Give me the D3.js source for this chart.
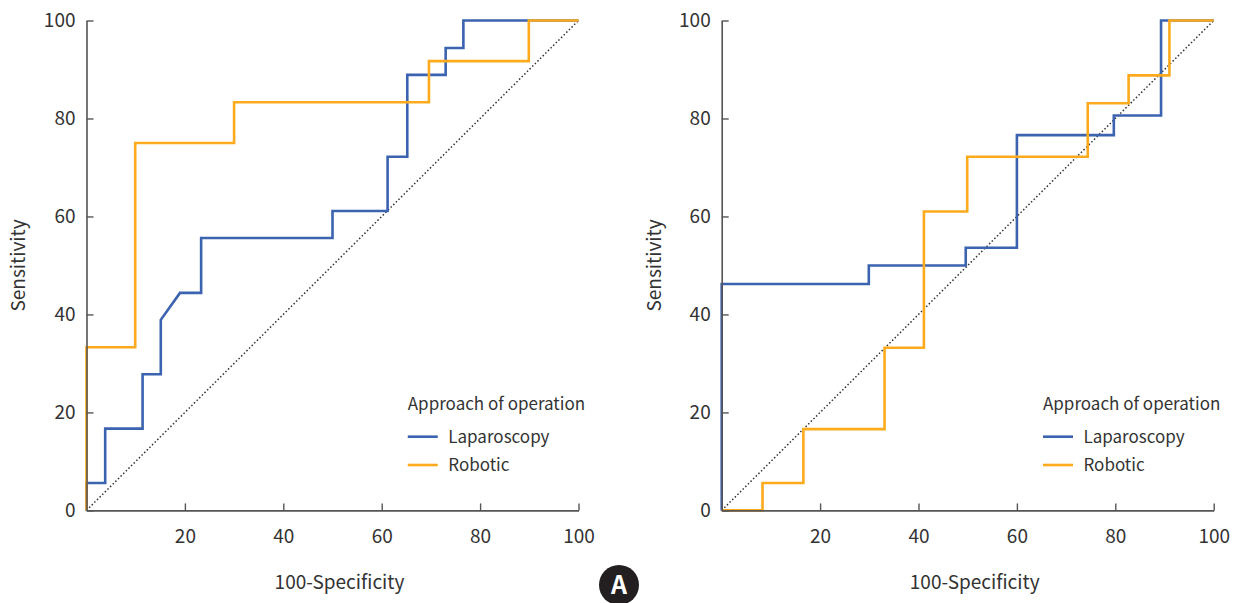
<!DOCTYPE html>
<html>
<head>
<meta charset="utf-8">
<script src="https://cdn.jsdelivr.net/npm/d3@7"></script>
<style>
  body { margin: 0; background: #fff; }
  svg { display: block; }
  text { font-family: "Noto Sans CJK KR", "Noto Sans", sans-serif; fill: #333; }
</style>
</head>
<body>
<svg id="chart" width="1235" height="603"></svg>
<script>
// ROC corner points (100-Specificity, Sensitivity)
const leftLapFpr = [0, 0, 3.8, 3.8, 11.4, 11.4, 15.1, 15.1, 19.0, 23.3, 23.3, 50, 50, 61.2, 61.2, 65.2, 65.2, 73, 73, 76.6, 76.6, 100];
const leftLapTpr = [0, 5.6, 5.6, 16.7, 16.7, 27.8, 27.8, 38.9, 44.4, 44.4, 55.6, 55.6, 61.1, 61.1, 72.2, 72.2, 88.9, 88.9, 94.4, 94.4, 100, 100];
const leftRobFpr = [0, 0, 9.9, 9.9, 30, 30, 69.6, 69.6, 89.9, 89.9, 100];
const leftRobTpr = [0, 33.3, 33.3, 75, 75, 83.3, 83.3, 91.7, 91.7, 100, 100];

const rightLapFpr = [0, 0, 29.9, 29.9, 49.6, 49.6, 60, 60, 79.7, 79.7, 89.3, 89.3, 100];
const rightLapTpr = [0, 46.2, 46.2, 50, 50, 53.6, 53.6, 76.6, 76.6, 80.6, 80.6, 100, 100];
const rightRobFpr = [0, 8.3, 8.3, 16.6, 16.6, 33.1, 33.1, 41.1, 41.1, 49.9, 49.9, 74.4, 74.4, 82.7, 82.7, 91, 91, 100];
const rightRobTpr = [0, 0, 5.6, 5.6, 16.6, 16.6, 33.2, 33.2, 61, 61, 72.2, 72.2, 83.1, 83.1, 88.8, 88.8, 100, 100];

const xTicks = [20, 40, 60, 80, 100];
const yTicks = [0, 20, 40, 60, 80, 100];
const seriesNames = ["Laparoscopy", "Robotic"];
const legendTitle = "Approach of operation";

const colors = {"Laparoscopy": "#3b63b0", "Robotic": "#fdab1c"};

const svg = d3.select("#chart");

const panels = [
  {x0: 86.5, titleX: 25, series: [[leftLapFpr, leftLapTpr], [leftRobFpr, leftRobTpr]]},
  {x0: 721.7, titleX: 661, series: [[rightLapFpr, rightLapTpr], [rightRobFpr, rightRobTpr]]}
];

const plotW = 492, plotTop = 20.5, plotBottom = 510.4;

panels.forEach(p => {
  const g = svg.append("g").attr("transform", `translate(${p.x0},0)`);
  const x = d3.scaleLinear().domain([0, 100]).range([0, plotW]);
  const y = d3.scaleLinear().domain([0, 100]).range([plotBottom, plotTop]);

  // reference diagonal
  g.append("line")
    .attr("x1", x(0)).attr("y1", y(0))
    .attr("x2", x(100)).attr("y2", y(100))
    .attr("stroke", "#333")
    .attr("stroke-width", 1.5)
    .attr("stroke-dasharray", "1.5 2.2");

  const line = d3.line().x(d => x(d[0])).y(d => y(d[1]));

  p.series.forEach((s, i) => {
    const pts = s[0].map((v, k) => [v, s[1][k]]);
    g.append("path")
      .attr("d", line(pts))
      .attr("fill", "none")
      .attr("stroke", colors[seriesNames[i]])
      .attr("stroke-width", 2.6);
  });

  const xAxis = g.append("g")
    .attr("transform", `translate(0,${plotBottom})`)
    .call(d3.axisBottom(x).tickValues(xTicks).tickSizeInner(-7).tickSizeOuter(0).tickPadding(19));
  const yAxis = g.append("g")
    .call(d3.axisLeft(y).tickValues(yTicks).tickSizeInner(-7).tickSizeOuter(0).tickPadding(11));

  [xAxis, yAxis].forEach(a => {
    a.select(".domain").attr("stroke", "#555").attr("stroke-width", 1.6);
    a.selectAll(".tick line").attr("stroke", "#555").attr("stroke-width", 1.4);
    a.selectAll(".tick text").attr("font-size", 19).attr("fill", "#333")
      .style("font-family", '"Noto Sans CJK KR", "Noto Sans", sans-serif');
  });

  g.append("text")
    .attr("x", plotW / 2 + 7).attr("y", 589)
    .attr("text-anchor", "middle")
    .attr("font-size", 19)
    .text("100-Specificity");

  g.append("text")
    .attr("transform", `translate(${p.titleX - p.x0},${(plotTop + plotBottom) / 2}) rotate(-90)`)
    .attr("text-anchor", "middle")
    .attr("font-size", 19)
    .text("Sensitivity");

  // legend
  const lg = g.append("g").attr("transform", `translate(${x(65.3)},0)`);
  lg.append("text").attr("x", 0).attr("y", 409.5).attr("font-size", 17).text(legendTitle);
  seriesNames.forEach((n, i) => {
    const yy = 436.7 + i * 28.3;
    lg.append("line").attr("x1", 0).attr("x2", 30).attr("y1", yy).attr("y2", yy)
      .attr("stroke", colors[n]).attr("stroke-width", 2.6);
    lg.append("text").attr("x", 40.5).attr("y", yy + 6).attr("font-size", 17).text(n);
  });
});

// panel badge
svg.append("circle").attr("cx", 619).attr("cy", 585).attr("r", 20).attr("fill", "#231f20");
svg.append("text").attr("x", 619).attr("y", 594).attr("text-anchor", "middle")
  .attr("font-size", 25).attr("font-weight", "bold").style("fill", "#fff").text("A");
</script>
</body>
</html>
